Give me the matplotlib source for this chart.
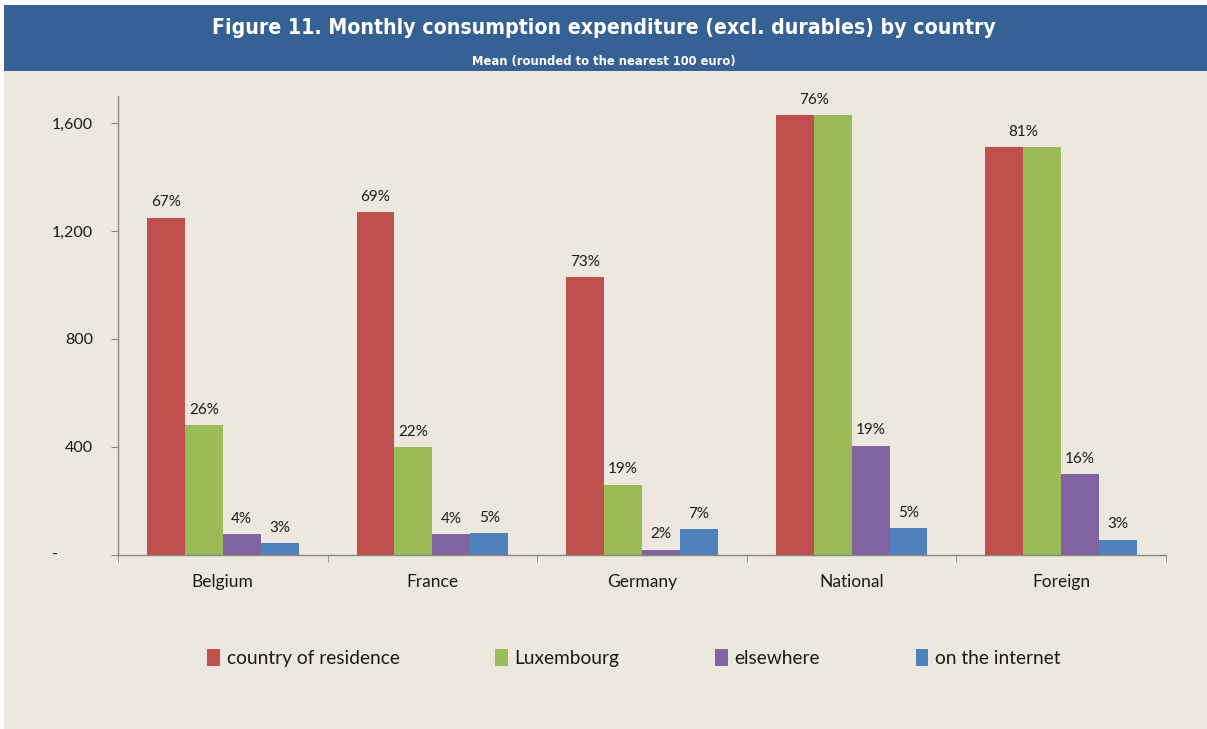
import numpy as np
import matplotlib
matplotlib.use("Agg")
import matplotlib.pyplot as plt
from matplotlib.patches import Rectangle

# Data (mean monthly expenditure, euro)
categories = ["Belgium", "France", "Germany", "National", "Foreign"]
series_names = ["country of residence", "Luxembourg", "elsewhere", "on the internet"]
residence = [1250, 1270, 1030, 1630, 1510]
luxembourg = [480, 400, 260, 1630, 1510]
elsewhere = [77, 77, 20, 405, 300]
internet = [43, 80, 95, 99, 57]
pct_residence = ["67%", "69%", "73%", "76%", "81%"]
pct_luxembourg = ["26%", "22%", "19%", None, None]
pct_elsewhere = ["4%", "4%", "2%", "19%", "16%"]
pct_internet = ["3%", "5%", "7%", "5%", "3%"]
y_ticks = [0, 400, 800, 1200, 1600]
y_ticklabels = ["", "400", "800", "1,200", "1,600"]

colors = ["#C0504D", "#9BBB59", "#8064A2", "#4F81BD"]
bg = "#ECE8DE"
banner = "#366194"
body_font = ["Lato", "DejaVu Sans"]
title_font = ["DejaVu Sans"]

plt.rcParams["font.family"] = body_font

fig = plt.figure(figsize=(12.07, 7.29), dpi=100)
fig.patch.set_facecolor("white")

# beige chart area and blue title banner
fig.add_artist(Rectangle((4 / 1207, 0), 1 - 4 / 1207, 1 - 71 / 729,
                         transform=fig.transFigure, facecolor=bg,
                         edgecolor="none", zorder=-2))
fig.add_artist(Rectangle((4 / 1207, 1 - 71 / 729), 1 - 4 / 1207, 66 / 729,
                         transform=fig.transFigure, facecolor=banner,
                         edgecolor="none", zorder=-2))
title = fig.text(0.5, 1 - 28 / 729,
                 "Figure 11. Monthly consumption expenditure (excl. durables) by country",
                 ha="center", va="center", color="white", fontsize=18,
                 fontweight="bold", family=title_font, fontstretch="condensed")
subtitle = fig.text(0.5, 1 - 61 / 729, "Mean (rounded to the nearest 100 euro)",
                    ha="center", va="center", color="white", fontsize=10,
                    fontweight="bold", family=title_font, fontstretch="condensed")

# fit title widths to the banner text widths
renderer = fig.canvas.get_renderer()
for txt, target in [(title, 780), (subtitle, 263)]:
    w = txt.get_window_extent(renderer).width
    txt.set_fontsize(txt.get_fontsize() * target / w)

ax = fig.add_axes([118 / 1207, 1 - 555 / 729, 1048 / 1207, 459 / 729])
ax.set_facecolor("none")

x = np.arange(len(categories))
width = 0.181
all_vals = [residence, luxembourg, elsewhere, internet]
all_pcts = [pct_residence, pct_luxembourg, pct_elsewhere, pct_internet]

for k, (vals, name, col, pcts) in enumerate(zip(all_vals, series_names, colors, all_pcts)):
    xs = x + (k - 1.5) * width
    ax.bar(xs, vals, width, color=col, label=name, edgecolor="none", zorder=2)
    for i, (xi, v, p) in enumerate(zip(xs, vals, pcts)):
        if p is None:
            continue
        xl = xi
        # when residence == Luxembourg only one label, centred on the pair
        if k == 0 and luxembourg[i] == v:
            xl = xi + width / 2
        ax.annotate(p, (xl, v), xytext=(0, 6), textcoords="offset points",
                    ha="center", va="bottom", fontsize=11, color="#1a1a1a")

ax.set_xlim(-0.5, len(categories) - 0.5)
ax.set_ylim(0, 1700)
ax.set_yticks(y_ticks)
ax.set_yticklabels(y_ticklabels)
ax.set_xticks(x)
ax.set_xticklabels(categories)
ax.set_xticks(np.arange(len(categories) + 1) - 0.5, minor=True)
ax.tick_params(axis="x", which="major", length=0, pad=14, labelsize=12.5)
ax.tick_params(axis="x", which="minor", length=5, color="#868686", direction="out")
ax.tick_params(axis="y", length=5, color="#868686", pad=13, labelsize=11.5)
for lab in ax.get_yticklabels() + ax.get_xticklabels():
    lab.set_color("#1a1a1a")

# accounting-style dash for zero
ax.annotate("-", (0, 0), xycoords=("axes fraction", "data"), xytext=(-63, 0),
            textcoords="offset pixels", ha="center", va="center",
            fontsize=11.5, color="#1a1a1a")

for s in ["top", "right"]:
    ax.spines[s].set_visible(False)
for s in ["left", "bottom"]:
    ax.spines[s].set_color("#868686")
    ax.spines[s].set_linewidth(1)

handles, labels = ax.get_legend_handles_labels()
fig.legend(handles, labels, loc="center", bbox_to_anchor=(634 / 1207, 1 - 658 / 729),
           ncol=4, frameon=False, fontsize=13.8, handlelength=0.65, handleheight=1.0,
           handletextpad=0.35, columnspacing=5.0, labelcolor="#1a1a1a")

fig.savefig("out.png", dpi=100, facecolor=fig.get_facecolor())
